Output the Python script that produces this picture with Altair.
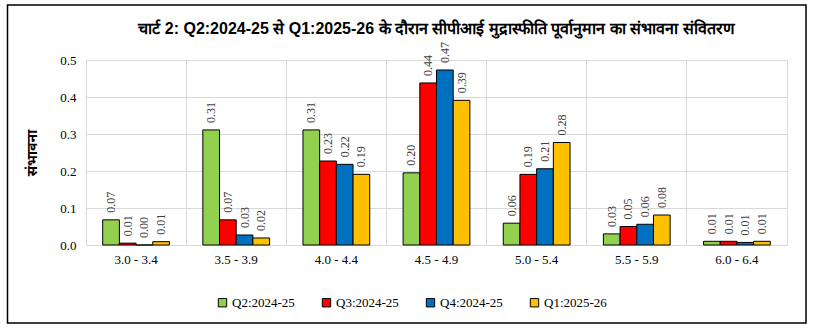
import altair as alt
import pandas as pd

categories = ["3.0 - 3.4", "3.5 - 3.9", "4.0 - 4.4", "4.5 - 4.9", "5.0 - 5.4", "5.5 - 5.9", "6.0 - 6.4"]
series = ["Q2:2024-25", "Q3:2024-25", "Q4:2024-25", "Q1:2025-26"]
q2_2024_25 = [0.068, 0.311, 0.311, 0.195, 0.059, 0.030, 0.010]
q3_2024_25 = [0.005, 0.068, 0.227, 0.438, 0.191, 0.050, 0.010]
q4_2024_25 = [0.000, 0.027, 0.218, 0.473, 0.206, 0.056, 0.007]
q1_2025_26 = [0.009, 0.019, 0.191, 0.391, 0.277, 0.081, 0.010]
colors = ["#92D050", "#FF0000", "#0070C0", "#FFC000"]

title_text = "चार्ट 2:  Q2:2024-25 से Q1:2025-26 के दौरान सीपीआई मुद्रास्फीति पूर्वानुमान का संभावना संवितरण"
y_title = "संभावना"

rows = []
for s, vals in zip(series, [q2_2024_25, q3_2024_25, q4_2024_25, q1_2025_26]):
    for c, v in zip(categories, vals):
        rows.append({"range": c, "series": s, "value": v})
df = pd.DataFrame(rows)

serif = "Liberation Serif"

base = alt.Chart(df).encode(
    x=alt.X("range:N", sort=categories, title=None,
            scale=alt.Scale(paddingInner=0, paddingOuter=0),
            axis=alt.Axis(labelAngle=0, labelFont=serif, labelFontSize=13, labelColor="#000000",
                          ticks=False, domain=True, domainColor="#d9d9d9", grid=True,
                          gridColor="#d9d9d9", bandPosition=0, labelPadding=8)),
    xOffset=alt.XOffset("series:N", sort=series,
                        scale=alt.Scale(domain=series, paddingInner=0,
                                        paddingOuter=alt.ExprRef(expr="1.333"))),
    y=alt.Y("value:Q", title=y_title,
            scale=alt.Scale(domain=[0, 0.5], nice=False),
            axis=alt.Axis(values=[0, 0.1, 0.2, 0.3, 0.4, 0.5], format=".1f",
                          labelFont=serif, labelFontSize=13, labelColor="#000000",
                          ticks=False, domain=False, grid=True, gridColor="#d9d9d9",
                          labelPadding=10, titleFont="Noto Sans", titleFontSize=14,
                          titleFontWeight="bold", titleColor="#000000", titlePadding=20)),
)

bars = base.mark_bar(stroke="#000000", strokeWidth=1).encode(
    color=alt.Color("series:N", sort=series,
                    scale=alt.Scale(domain=series, range=colors),
                    legend=alt.Legend(title=None, orient="none", direction="horizontal",
                                      legendX=130, legendY=236, symbolType="square",
                                      symbolSize=70, symbolStrokeColor="#000000",
                                      symbolStrokeWidth=1, labelFont=serif, labelFontSize=13,
                                      labelColor="#000000", columnPadding=25, labelOffset=3)),
)

labels = base.mark_text(angle=270, align="left", baseline="middle", dx=7,
                        font=serif, fontSize=12, color="#404040").encode(
    text=alt.Text("value:Q", format=".2f"),
)

frame = alt.Chart(pd.DataFrame({"a": [0]})).mark_rect(
    fillOpacity=0, stroke="#000000", strokeWidth=1.5
).encode(x=alt.value(-78.5), x2=alt.value(720), y=alt.value(-55), y2=alt.value(263))

chart = alt.layer(bars, labels, frame).properties(
    width=701, height=185,
    padding={"left": 86, "top": 60, "right": 33, "bottom": 87},
    autosize=alt.AutoSizeParams(type="none"),
    title=alt.TitleParams(title_text, font="Liberation Sans", fontSize=16,
                          fontWeight="bold", color="#000000", anchor="middle", offset=-33),
).configure_view(fill="#f2f2f2", stroke="#d9d9d9").configure(background="#ffffff")

chart.save("out.html", embed_options={"renderer": "svg", "actions": False})
